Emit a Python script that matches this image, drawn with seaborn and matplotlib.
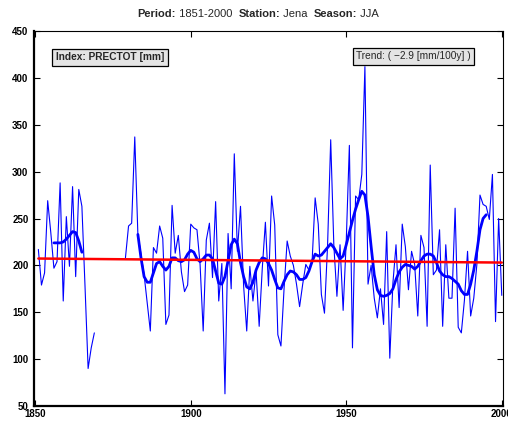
import numpy as np
import pandas as pd
import matplotlib
matplotlib.use("Agg")
import matplotlib.pyplot as plt
import seaborn as sns

# ---------------- data ----------------
years = list(range(1851, 2001))
precip = [
    217, 179, 192, 269, 235, 197, 204, 288, 162, 252,   # 1851-1860
    199, 284, 188, 281, 263, 178, 90, 112, 128, np.nan,  # 1861-1870
    np.nan, np.nan, np.nan, np.nan, np.nan, np.nan, np.nan, np.nan, 208, 242,  # 1871-1880
    245, 337, 233, 212, 190, 160, 130, 219, 213, 242,   # 1881-1890
    229, 137, 147, 264, 213, 232, 193, 172, 179, 244,   # 1891-1900
    240, 238, 201, 130, 227, 245, 187, 268, 162, 202,   # 1901-1910
    63, 234, 175, 319, 215, 263, 178, 130, 199, 162,    # 1911-1920
    194, 135, 197, 246, 178, 274, 243, 126, 114, 175,   # 1921-1930
    226, 210, 200, 180, 156, 180, 201, 195, 203, 272,   # 1931-1940
    244, 169, 149, 222, 334, 222, 167, 222, 152, 226,   # 1941-1950
    328, 112, 274, 270, 297, 412, 180, 200, 165, 144,   # 1951-1960
    175, 137, 236, 101, 181, 222, 155, 244, 220, 174,   # 1961-1970
    215, 201, 146, 232, 219, 135, 307, 190, 195, 238,   # 1971-1980
    135, 222, 165, 165, 261, 134, 128, 163, 215, 146,   # 1981-1990
    165, 201, 275, 265, 263, 249, 297, 140, 250, 168,   # 1991-2000
]

smooth1_years = list(range(1856, 1866))
smooth1 = [224, 224, 224, 225, 228, 232, 236, 235, 226, 214]

smooth2_years = list(range(1883, 1996))
smooth2 = [
    233, 208, 188, 182, 182, 192, 202, 204, 199, 195,   # 1883-1892
    199, 208, 208, 205, 204, 206, 212, 216, 214, 207,   # 1893-1902
    204, 207, 211, 211, 207, 194, 181, 180, 188, 205,   # 1903-1912
    222, 228, 223, 203, 188, 177, 175, 182, 195, 203,   # 1913-1922
    208, 207, 202, 195, 185, 176, 175, 183, 190, 194,   # 1923-1932
    193, 190, 185, 185, 187, 194, 204, 212, 210, 211,   # 1933-1942
    215, 219, 223, 219, 213, 207, 210, 222, 235, 248,   # 1943-1952
    260, 270, 279, 275, 252, 220, 190, 174, 168, 167,   # 1953-1962
    168, 170, 175, 185, 193, 198, 201, 200, 199, 196,   # 1963-1972
    199, 205, 210, 212, 212, 210, 203, 194, 190, 188,   # 1973-1982
    188, 186, 183, 180, 173, 169, 169, 180, 195, 215,   # 1983-1992
    238, 250, 254,                                      # 1993-1995
]

trend_years = [1851, 2000]
trend_vals = [207.3, 203.0]

title_parts = [("Period:", "bold"), (" 1851-2000  ", "normal"),
               ("Station:", "bold"), (" Jena  ", "normal"),
               ("Season:", "bold"), (" JJA", "normal")]
index_label = "Index: PRECTOT [mm]"
trend_label = "Trend: ( \u22122.9 [mm/100y] )"
xticks = [1850, 1900, 1950, 2000]
yticks = [50, 100, 150, 200, 250, 300, 350, 400, 450]

# ---------------- frames ----------------
raw = pd.DataFrame({"year": years, "value": precip})
raw["seg"] = raw["value"].isna().cumsum()
raw = raw.dropna()

sm = pd.concat([
    pd.DataFrame({"year": smooth1_years, "value": smooth1, "seg": 0}),
    pd.DataFrame({"year": smooth2_years, "value": smooth2, "seg": 1}),
])
tr = pd.DataFrame({"year": trend_years, "value": trend_vals})

# ---------------- style ----------------
sns.set_style("ticks")
plt.rcParams["font.family"] = ["Liberation Sans", "DejaVu Sans"]

fig = plt.figure(figsize=(5.08, 4.23), dpi=100)
ax = fig.add_axes([34 / 508, 1 - 406 / 423, 469 / 508, 375 / 423])

sns.lineplot(data=raw, x="year", y="value", units="seg", estimator=None,
             color="#0000ff", lw=0.8, ax=ax, legend=False)
sns.lineplot(data=sm, x="year", y="value", units="seg", estimator=None,
             color="#0000ff", lw=2.0, ax=ax, legend=False)
sns.lineplot(data=tr, x="year", y="value", estimator=None,
             color="#ff0000", lw=1.8, ax=ax, legend=False)

ax.set_xlim(1849.6, 2000.4)
ax.set_ylim(50, 450)
ax.set_xticks(xticks)
ax.set_yticks(yticks)
ax.set_xticklabels([str(t) for t in xticks], fontweight="bold", fontsize=7)
ax.set_yticklabels([str(t) for t in yticks], fontweight="bold", fontsize=7)
ax.tick_params(direction="in", length=4, width=0.8, top=True, right=True,
               colors="black")
ax.tick_params(axis="x", pad=2.5)
ax.tick_params(axis="y", pad=4)
ax.set_xlabel("")
ax.set_ylabel("")
for s in ["left", "bottom"]:
    ax.spines[s].set_linewidth(1.6)
for s in ["top", "right"]:
    ax.spines[s].set_linewidth(0.8)
for s in ax.spines.values():
    s.set_color("black")

box = dict(boxstyle="square,pad=0.35", fc="#e4e4e4", ec="black", lw=0.9)
ax.text(0.047, 0.93, index_label, transform=ax.transAxes, fontsize=7.3,
        fontweight="bold", va="center", ha="left", bbox=box)
ax.text(0.687, 0.933, trend_label, transform=ax.transAxes, fontsize=7.3,
        va="center", ha="left", bbox=box)

# title assembled from bold / normal pieces, centred as a whole
renderer = fig.canvas.get_renderer()
pieces = []
total = 0.0
for txt, w in title_parts:
    t = fig.text(0, 1 - 14 / 423, txt, fontsize=8, fontweight=w,
                 ha="left", va="center")
    bb = t.get_window_extent(renderer=renderer)
    pieces.append((t, bb.width))
    total += bb.width
x0 = 258 - total / 2
for t, wd in pieces:
    t.set_x(x0 / 508)
    x0 += wd

fig.savefig("out.png", dpi=100)
